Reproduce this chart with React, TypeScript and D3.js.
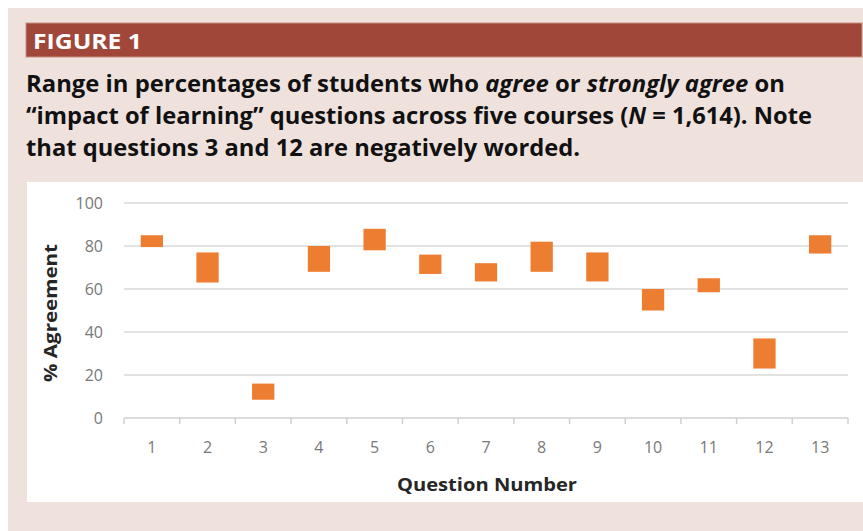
import React from "react";
import * as d3 from "d3";

const questions = ["1", "2", "3", "4", "5", "6", "7", "8", "9", "10", "11", "12", "13"];
const lowValues = [79.5, 63, 8.5, 68, 78, 67, 63.5, 68, 63.5, 50, 58.5, 23, 76.5];
const highValues = [85, 77, 16, 80, 88, 76, 72, 82, 77, 60, 65, 37, 85];
const yTicks = [0, 20, 40, 60, 80, 100];

const W = 863;
const H = 531;

export default function App() {
  const x = d3.scaleBand<string>().domain(questions).range([124, 848]).padding(0);
  const y = d3.scaleLinear().domain([0, 100]).range([418, 203]);
  const bw = x.bandwidth() * 0.4;
  const boundaries = questions.map((q) => x(q) as number).concat([848]);
  const sans = "'Open Sans', 'Noto Sans', sans-serif";

  return (
    <svg
      width={W}
      height={H}
      style={{ position: "absolute", left: 0, top: 0, display: "block" }}
    >
      <rect x={0} y={0} width={W} height={H} fill="#ffffff" />
      <rect x={8} y={8} width={W - 8} height={H - 8} fill="#efe2dd" />
      <rect x={26} y={23} width={836} height={34} fill="#a1473a" stroke="#c98f80" strokeWidth={1} />
      <text
        x={33}
        y={48.5}
        fill="#ffffff"
        fontFamily={sans}
        fontWeight={700}
        fontSize={22}
        textLength={109}
        lengthAdjust="spacingAndGlyphs"
      >
        FIGURE 1
      </text>
      <g fontFamily={sans} fontWeight={700} fontSize={23} fill="#111111">
        <text x={26} y={92} textLength={759} lengthAdjust="spacingAndGlyphs">
          Range in percentages of students who <tspan fontStyle="italic">agree</tspan> or{" "}
          <tspan fontStyle="italic">strongly agree</tspan> on
        </text>
        <text x={26} y={124} textLength={786} lengthAdjust="spacingAndGlyphs">
          {"\u201Cimpact of learning\u201D questions across five courses ("}
          <tspan fontStyle="italic">N</tspan>
          {" = 1,614). Note"}
        </text>
        <text x={26} y={156} textLength={554} lengthAdjust="spacingAndGlyphs">
          that questions 3 and 12 are negatively worded.
        </text>
      </g>
      <rect x={27} y={182} width={W - 27} height={320} fill="#ffffff" />
      {yTicks.map((t) => (
        <g key={t}>
          {t > 0 && (
            <line x1={124} x2={848} y1={y(t)} y2={y(t)} stroke="#d9d9d9" strokeWidth={1.5} />
          )}
          <text
            x={103}
            y={y(t)}
            dy="0.36em"
            textAnchor="end"
            fontFamily={sans}
            fontSize={16}
            fill="#787878"
          >
            {t}
          </text>
        </g>
      ))}
      <line x1={124} x2={848} y1={y(0)} y2={y(0)} stroke="#d0d0d0" strokeWidth={1.5} />
      {boundaries.map((bx, i) => (
        <line key={i} x1={bx} x2={bx} y1={y(0)} y2={y(0) + 6} stroke="#d0d0d0" strokeWidth={1.5} />
      ))}
      {questions.map((q, i) => (
        <rect
          key={q}
          x={(x(q) as number) + (x.bandwidth() - bw) / 2}
          y={y(highValues[i])}
          width={bw}
          height={y(lowValues[i]) - y(highValues[i])}
          fill="#ed7d31"
        />
      ))}
      {questions.map((q) => (
        <text
          key={q}
          x={(x(q) as number) + x.bandwidth() / 2}
          y={453}
          textAnchor="middle"
          fontFamily={sans}
          fontSize={16}
          fill="#787878"
        >
          {q}
        </text>
      ))}
      <text
        x={487}
        y={491}
        textAnchor="middle"
        fontFamily={sans}
        fontWeight={700}
        fontSize={18}
        fill="#262626"
        textLength={180}
        lengthAdjust="spacingAndGlyphs"
      >
        Question Number
      </text>
      <text
        transform={`translate(57,313) rotate(-90)`}
        textAnchor="middle"
        fontFamily={sans}
        fontWeight={700}
        fontSize={18}
        fill="#262626"
        textLength={138}
        lengthAdjust="spacingAndGlyphs"
      >
        % Agreement
      </text>
    </svg>
  );
}
